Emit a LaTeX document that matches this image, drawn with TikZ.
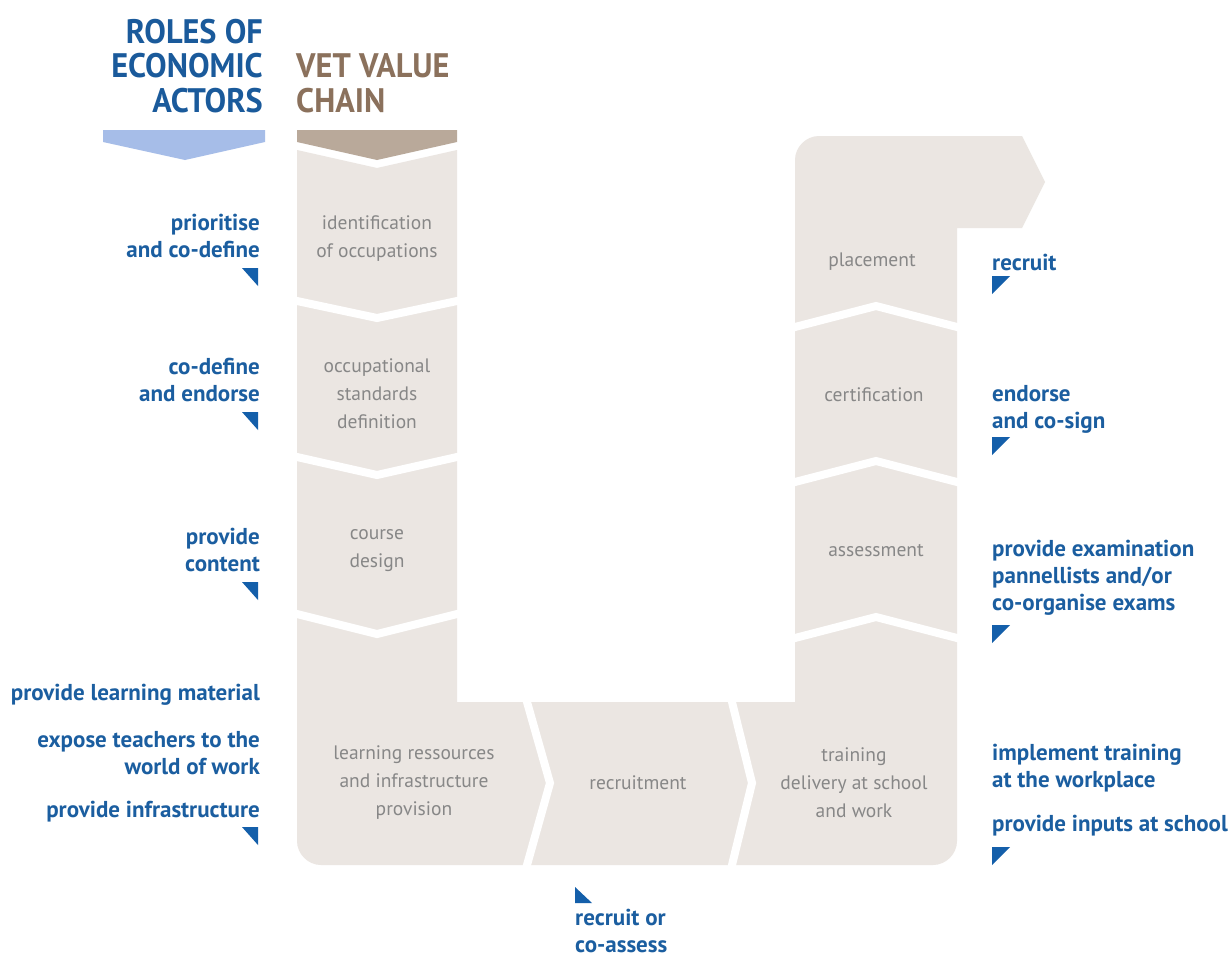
\documentclass[tikz,border=0pt]{standalone}
\usepackage{fontspec}
\setmainfont{PT Sans}
\newfontfamily\hdfont[FakeStretch=0.95]{PT Sans}
\newfontfamily\lbfont{PT Sans}
\definecolor{actblue}{RGB}{27,94,160}
\definecolor{hdblue}{RGB}{26,90,155}
\definecolor{hdbrown}{RGB}{139,113,92}
\definecolor{banblue}{RGB}{166,189,232}
\definecolor{banbrown}{RGB}{185,169,154}
\definecolor{boxgray}{RGB}{235,230,226}
\definecolor{txtgray}{RGB}{135,135,135}
\definecolor{triblue}{RGB}{20,95,170}
\tikzset{
  header/.style={inner sep=0pt, font={\hdfont\bfseries\fontsize{34}{34.5}\selectfont}},
  bluelab/.style={inner sep=0pt, text=actblue, font={\lbfont\bfseries\fontsize{23}{27}\selectfont}},
  graylab/.style={inner sep=0pt, text=txtgray, align=center, font={\fontsize{19.5}{28}\selectfont}},
  sepline/.style={draw=white, line width=8pt, line join=miter, shorten <=-6pt, shorten >=-6pt},
  tri/.style={fill=triblue}
}
\begin{document}
\begin{tikzpicture}[x=1pt,y=-1pt]
\useasboundingbox (0,0) rectangle (1229,959);
\fill[white] (0,0) rectangle (1229,959);

% headers
\node[header, text=hdblue, align=right, anchor=east] (hroles) at (263,66) {ROLES OF\\ECONOMIC\\ACTORS};
\node[header, text=hdbrown, align=left, anchor=west] (hvet) at (296,83) {VET VALUE\\CHAIN};

% banners
\fill[banblue] (103,130) -- (265,130) -- (265,142) -- (185,160) -- (103,142) -- cycle;
\fill[banbrown] (297,130) -- (457,130) -- (457,142) -- (377,160) -- (297,142) -- cycle;

% main gray U shape
\fill[boxgray] (297,150) -- (377,168) -- (457,150) -- (457,702) -- (795,702)
  -- (795,160) .. controls (795,147) and (806,136) .. (819,136)
  -- (1022,136) -- (1045,182) -- (1022,228) -- (957,228)
  -- (957,841) .. controls (957,854) and (946,865) .. (933,865)
  -- (321,865) .. controls (308,865) and (297,854) .. (297,841) -- cycle;

% separators, left column (pointing down)
\draw[sepline] (297,301) -- (377,318) -- (457,301);
\draw[sepline] (297,457) -- (377,475) -- (457,457);
\draw[sepline] (297,614) -- (377,634) -- (457,614);
% separators, bottom row (pointing right)
\draw[sepline] (527,702) -- (550,783) -- (527,865);
\draw[sepline] (732,702) -- (752,783) -- (732,865);
% separators, right column (pointing up)
\draw[sepline] (795,327) -- (876,306) -- (957,327);
\draw[sepline] (795,482) -- (876,461) -- (957,482);
\draw[sepline] (795,638) -- (876,617) -- (957,638);

% gray step labels
\node[graylab] (s1) at (377,239) {identification\\of occupations};
\node[graylab] (s2) at (377,394) {occupational\\standards\\definition};
\node[graylab] (s3) at (377,551) {course\\design};
\node[graylab] (s4) at (414,783) {learning ressources\\and infrastructure\\provision};
\node[graylab] (s5) at (638,783) {recruitment};
\node[graylab] (s6) at (854,783) {training\\delivery at school\\and work};
\node[graylab] (s7) at (874,395) {certification};
\node[graylab] (s8) at (876,551) {assessment};
\node[graylab] (s9) at (872,262) {placement};

% left roles
\node[bluelab, align=right, anchor=east] (l1) at (260,236) {prioritise\\and co-define};
\node[bluelab, align=right, anchor=east] (l2) at (260,380) {co-define\\and endorse};
\node[bluelab, align=right, anchor=east] (l3) at (260,550) {provide\\content};
\node[bluelab, align=right, anchor=east] (l4) at (260,695) {provide learning material};
\node[bluelab, align=right, anchor=east] (l5) at (260,753) {expose teachers to the\\world of work};
\node[bluelab, align=right, anchor=east] (l6) at (260,812) {provide infrastructure};
\fill[tri] (242,268) -- (258,268) -- (258,286) -- cycle;
\fill[tri] (242,412) -- (258,412) -- (258,430) -- cycle;
\fill[tri] (242,582) -- (258,582) -- (258,600) -- cycle;
\fill[tri] (242,827) -- (258,827) -- (258,845) -- cycle;

% right roles
\node[bluelab, align=left, anchor=west] (r1) at (992,262) {recruit};
\node[bluelab, align=left, anchor=west] (r2) at (992,409) {endorse\\and co-sign};
\node[bluelab, align=left, anchor=west] (r3) at (992,578) {provide examination\\pannellists and/or\\co-organise exams};
\node[bluelab, align=left, anchor=west] (r4) at (992,768) {implement training\\at the workplace};
\node[bluelab, align=left, anchor=west] (r5) at (992,826) {provide inputs at school};
\fill[tri] (992,276) -- (1010,276) -- (992,294) -- cycle;
\fill[tri] (992,437) -- (1010,437) -- (992,455) -- cycle;
\fill[tri] (992,625) -- (1010,625) -- (992,643) -- cycle;
\fill[tri] (992,847) -- (1010,847) -- (992,865) -- cycle;

% bottom role
\fill[tri] (575,887) -- (575,903) -- (592,903) -- cycle;
\node[bluelab, align=left, anchor=west] (b1) at (575,931) {recruit or\\co-assess};
\end{tikzpicture}
\end{document}
